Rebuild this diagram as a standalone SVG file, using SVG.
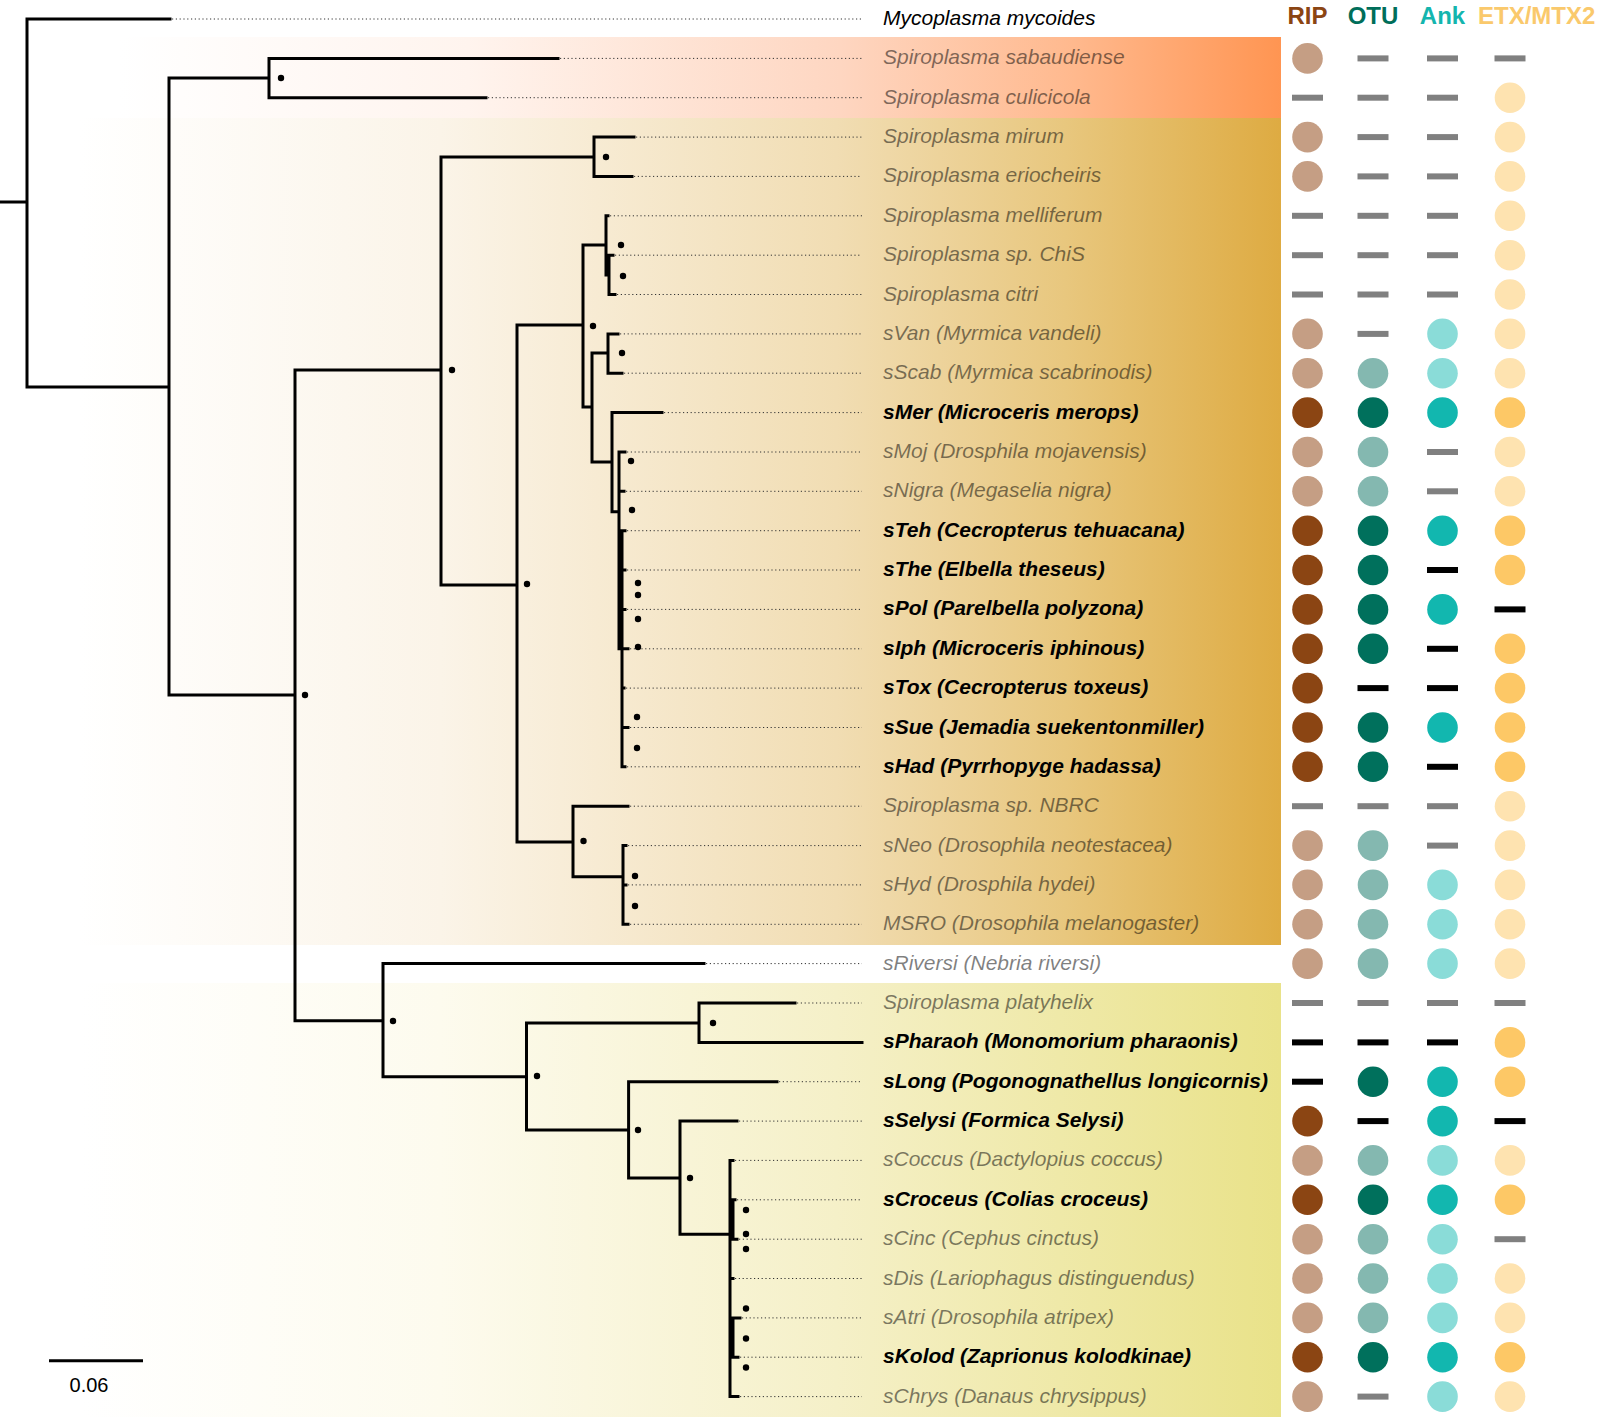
<svg xmlns="http://www.w3.org/2000/svg" width="1600" height="1417" viewBox="0 0 1600 1417">
<style>
.br{stroke:#000;stroke-width:3;fill:none;stroke-linecap:square}
.ld{stroke:#333;stroke-width:1;stroke-dasharray:1.2 2.6;fill:none}
.lb{font-family:"Liberation Sans",Arial,sans-serif;font-size:21px;font-style:italic}
.gr{fill:#000;fill-opacity:0.5}
.bd{fill:#000;font-weight:bold}
.bk{fill:#000}
.hd{font-family:"Liberation Sans",Arial,sans-serif;font-size:24px;font-weight:bold}
.nd{fill:#000}
.rD{fill:#8B4513}.rL{fill:#C59E84}
.oD{fill:#00705C}.oL{fill:#84B8B0}
.aD{fill:#12B7AF}.aL{fill:#8ADCD8}
.eD{fill:#FDC866}.eL{fill:#FEE3B0}
.dg{fill:#808080}.dk{fill:#000}
</style>
<defs>
<linearGradient id="gOr" gradientUnits="userSpaceOnUse" x1="120" y1="0" x2="1281" y2="0">
<stop offset="0" stop-color="#FFFFFF"/>
<stop offset="0.3" stop-color="#FFF4EE"/>
<stop offset="0.62" stop-color="#FED6C1"/>
<stop offset="0.82" stop-color="#FFB98E"/>
<stop offset="1" stop-color="#FF9552"/>
</linearGradient>
<linearGradient id="gGo" gradientUnits="userSpaceOnUse" x1="80" y1="0" x2="1281" y2="0">
<stop offset="0" stop-color="#FFFFFF"/>
<stop offset="0.3" stop-color="#FBF4E8"/>
<stop offset="0.63" stop-color="#F1DDB3"/>
<stop offset="0.82" stop-color="#E8C77E"/>
<stop offset="1" stop-color="#DEAB42"/>
</linearGradient>
<linearGradient id="gYe" gradientUnits="userSpaceOnUse" x1="80" y1="0" x2="1281" y2="0">
<stop offset="0" stop-color="#FFFFFF"/>
<stop offset="0.3" stop-color="#FDFBEE"/>
<stop offset="0.63" stop-color="#F5F0C8"/>
<stop offset="1" stop-color="#E9E289"/>
</linearGradient>
</defs>
<rect width="1600" height="1417" fill="#FFFFFF"/>
<g id="bands">
<rect x="80" y="37" width="1201" height="81" fill="url(#gOr)"/>
<rect x="80" y="118" width="1201" height="827" fill="url(#gGo)"/>
<rect x="80" y="983" width="1201" height="434" fill="url(#gYe)"/>
</g>
<g id="headers">
<text class="hd" x="1307.5" y="23.5" text-anchor="middle" fill="#8B4513">RIP</text>
<text class="hd" x="1373" y="23.5" text-anchor="middle" fill="#006E5A">OTU</text>
<text class="hd" x="1442.5" y="23.5" text-anchor="middle" fill="#14B5AE">Ank</text>
<text class="hd" x="1478" y="23.5" fill="#FAC96C">ETX/MTX2</text>
</g>
<g id="connectors">
<path class="br" d="M0,202H27 M27,19V387 M27,19H170 M27,387H169 M169,78V695 M169,78H269 M269,58.4V97.7 M269,58.4H558 M269,97.7H486 M169,695H295 M295,370V1020.7 M295,370H441 M441,157V585 M441,157H594 M594,137.1V176.4 M594,137.1H634 M594,176.4H632 M441,585H517 M517,325V842 M517,325H583 M583,245V407 M583,245H606 M606,215.8V275 M606,215.8H608 M606,275H609 M609,255.2V294.5 M609,255.2H613 M609,294.5H615 M583,407H592 M592,353V462 M592,353H608 M608,333.9V373.2 M608,333.9H618 M608,373.2H622 M592,462H612 M612,412.6V511.7 M612,412.6H662 M612,511.7H619 M619,452V648.8 M619,452H625 M619,491.3H624 M622,530.7V766.8 M622,530.7H625 M622,570H625 M622,609.4H625 M622,648.8H628 M622,688.1H624 M622,727.5H628 M622,766.8H625 M517,842H573 M573,806.2V876.7 M573,806.2H628 M573,876.7H623 M623,845.6V924.3 M623,845.6H626 M623,884.9H626 M623,924.3H628 M295,1020.7H383 M383,963.6V1076.7 M383,963.6H704 M383,1076.7H526.5 M526.5,1023V1130 M526.5,1023H699 M699,1003V1042.4 M699,1003H795 M699,1042.4H862 M526.5,1130H628.6 M628.6,1081.7V1178 M628.6,1081.7H777 M628.6,1178H680 M680,1121.1V1234.3 M680,1121.1H737 M680,1234.3H730 M730,1160.4V1396.6 M730,1160.4H733 M733,1199.8V1238.8 M730,1199.8H735 M730,1239.2H737 M730,1278.5H733 M730,1317.9H740 M733,1317.9V1357.2 M733,1357.2H738 M730,1396.6H738"/>
<path class="ld" d="M172,19H862 M560,58.4H862 M488,97.7H862 M636,137.1H862 M634,176.4H862 M610,215.8H862 M615,255.2H862 M617,294.5H862 M620,333.9H862 M624,373.2H862 M664,412.6H862 M627,452H862 M626,491.3H862 M627,530.7H862 M627,570H862 M627,609.4H862 M630,648.8H862 M626,688.1H862 M630,727.5H862 M627,766.8H862 M630,806.2H862 M628,845.6H862 M628,884.9H862 M630,924.3H862 M706,963.6H862 M797,1003H862 M779,1081.7H862 M739,1121.1H862 M735,1160.4H862 M737,1199.8H862 M739,1239.2H862 M735,1278.5H862 M742,1317.9H862 M740,1357.2H862 M740,1396.6H862"/>
<g class="nd">
<circle cx="281" cy="78" r="3.2"/><circle cx="606" cy="157" r="3.2"/><circle cx="621" cy="245" r="3.2"/><circle cx="623" cy="276" r="3.2"/><circle cx="593" cy="326" r="3.2"/><circle cx="622" cy="353" r="3.2"/><circle cx="452" cy="370" r="3.2"/><circle cx="631" cy="461" r="3.2"/><circle cx="632" cy="510" r="3.2"/><circle cx="638" cy="583" r="3.2"/><circle cx="638" cy="595" r="3.2"/><circle cx="638" cy="619" r="3.2"/><circle cx="638" cy="647" r="3.2"/><circle cx="637" cy="717" r="3.2"/><circle cx="637" cy="748" r="3.2"/><circle cx="527" cy="584" r="3.2"/><circle cx="305" cy="695" r="3.2"/><circle cx="583.5" cy="841" r="3.2"/><circle cx="635" cy="876" r="3.2"/><circle cx="635" cy="906" r="3.2"/><circle cx="393" cy="1021" r="3.2"/><circle cx="713" cy="1023" r="3.2"/><circle cx="537" cy="1076" r="3.2"/><circle cx="638" cy="1130" r="3.2"/><circle cx="690" cy="1178" r="3.2"/><circle cx="746" cy="1210" r="3.2"/><circle cx="746" cy="1234" r="3.2"/><circle cx="746" cy="1249" r="3.2"/><circle cx="746" cy="1308.5" r="3.2"/><circle cx="746" cy="1338.5" r="3.2"/><circle cx="746" cy="1367.5" r="3.2"/>
</g>
</g>
<g id="scale">
<line x1="49" y1="1360.7" x2="143" y2="1360.7" stroke="#000" stroke-width="3"/>
<text x="89" y="1392" text-anchor="middle" font-family="'Liberation Sans',Arial,sans-serif" font-size="20" fill="#000">0.06</text>
</g>
<g id="t00"><text class="lb bk" x="883" y="25">Mycoplasma mycoides</text></g>
<g id="t01"><text class="lb gr" x="883" y="64.4">Spiroplasma sabaudiense</text><circle class="rL" cx="1307.5" cy="58.4" r="15.3"/><rect class="dg" x="1357.5" y="55.4" width="31" height="6"/><rect class="dg" x="1427" y="55.4" width="31" height="6"/><rect class="dg" x="1494.5" y="55.4" width="31" height="6"/></g>
<g id="t02"><text class="lb gr" x="883" y="103.7">Spiroplasma culicicola</text><rect class="dg" x="1292" y="94.7" width="31" height="6"/><rect class="dg" x="1357.5" y="94.7" width="31" height="6"/><rect class="dg" x="1427" y="94.7" width="31" height="6"/><circle class="eL" cx="1510" cy="97.7" r="15.3"/></g>
<g id="t03"><text class="lb gr" x="883" y="143.1">Spiroplasma mirum</text><circle class="rL" cx="1307.5" cy="137.1" r="15.3"/><rect class="dg" x="1357.5" y="134.1" width="31" height="6"/><rect class="dg" x="1427" y="134.1" width="31" height="6"/><circle class="eL" cx="1510" cy="137.1" r="15.3"/></g>
<g id="t04"><text class="lb gr" x="883" y="182.4">Spiroplasma eriocheiris</text><circle class="rL" cx="1307.5" cy="176.4" r="15.3"/><rect class="dg" x="1357.5" y="173.4" width="31" height="6"/><rect class="dg" x="1427" y="173.4" width="31" height="6"/><circle class="eL" cx="1510" cy="176.4" r="15.3"/></g>
<g id="t05"><text class="lb gr" x="883" y="221.8">Spiroplasma melliferum</text><rect class="dg" x="1292" y="212.8" width="31" height="6"/><rect class="dg" x="1357.5" y="212.8" width="31" height="6"/><rect class="dg" x="1427" y="212.8" width="31" height="6"/><circle class="eL" cx="1510" cy="215.8" r="15.3"/></g>
<g id="t06"><text class="lb gr" x="883" y="261.2">Spiroplasma sp. ChiS</text><rect class="dg" x="1292" y="252.2" width="31" height="6"/><rect class="dg" x="1357.5" y="252.2" width="31" height="6"/><rect class="dg" x="1427" y="252.2" width="31" height="6"/><circle class="eL" cx="1510" cy="255.2" r="15.3"/></g>
<g id="t07"><text class="lb gr" x="883" y="300.5">Spiroplasma citri</text><rect class="dg" x="1292" y="291.5" width="31" height="6"/><rect class="dg" x="1357.5" y="291.5" width="31" height="6"/><rect class="dg" x="1427" y="291.5" width="31" height="6"/><circle class="eL" cx="1510" cy="294.5" r="15.3"/></g>
<g id="t08"><text class="lb gr" x="883" y="339.9">sVan (Myrmica vandeli)</text><circle class="rL" cx="1307.5" cy="333.9" r="15.3"/><rect class="dg" x="1357.5" y="330.9" width="31" height="6"/><circle class="aL" cx="1442.5" cy="333.9" r="15.3"/><circle class="eL" cx="1510" cy="333.9" r="15.3"/></g>
<g id="t09"><text class="lb gr" x="883" y="379.2">sScab (Myrmica scabrinodis)</text><circle class="rL" cx="1307.5" cy="373.2" r="15.3"/><circle class="oL" cx="1373" cy="373.2" r="15.3"/><circle class="aL" cx="1442.5" cy="373.2" r="15.3"/><circle class="eL" cx="1510" cy="373.2" r="15.3"/></g>
<g id="t10"><text class="lb bd" x="883" y="418.6">sMer (Microceris merops)</text><circle class="rD" cx="1307.5" cy="412.6" r="15.3"/><circle class="oD" cx="1373" cy="412.6" r="15.3"/><circle class="aD" cx="1442.5" cy="412.6" r="15.3"/><circle class="eD" cx="1510" cy="412.6" r="15.3"/></g>
<g id="t11"><text class="lb gr" x="883" y="458">sMoj (Drosphila mojavensis)</text><circle class="rL" cx="1307.5" cy="452" r="15.3"/><circle class="oL" cx="1373" cy="452" r="15.3"/><rect class="dg" x="1427" y="449" width="31" height="6"/><circle class="eL" cx="1510" cy="452" r="15.3"/></g>
<g id="t12"><text class="lb gr" x="883" y="497.3">sNigra (Megaselia nigra)</text><circle class="rL" cx="1307.5" cy="491.3" r="15.3"/><circle class="oL" cx="1373" cy="491.3" r="15.3"/><rect class="dg" x="1427" y="488.3" width="31" height="6"/><circle class="eL" cx="1510" cy="491.3" r="15.3"/></g>
<g id="t13"><text class="lb bd" x="883" y="536.7">sTeh (Cecropterus tehuacana)</text><circle class="rD" cx="1307.5" cy="530.7" r="15.3"/><circle class="oD" cx="1373" cy="530.7" r="15.3"/><circle class="aD" cx="1442.5" cy="530.7" r="15.3"/><circle class="eD" cx="1510" cy="530.7" r="15.3"/></g>
<g id="t14"><text class="lb bd" x="883" y="576">sThe (Elbella theseus)</text><circle class="rD" cx="1307.5" cy="570" r="15.3"/><circle class="oD" cx="1373" cy="570" r="15.3"/><rect class="dk" x="1427" y="567" width="31" height="6"/><circle class="eD" cx="1510" cy="570" r="15.3"/></g>
<g id="t15"><text class="lb bd" x="883" y="615.4">sPol (Parelbella polyzona)</text><circle class="rD" cx="1307.5" cy="609.4" r="15.3"/><circle class="oD" cx="1373" cy="609.4" r="15.3"/><circle class="aD" cx="1442.5" cy="609.4" r="15.3"/><rect class="dk" x="1494.5" y="606.4" width="31" height="6"/></g>
<g id="t16"><text class="lb bd" x="883" y="654.8">sIph (Microceris iphinous)</text><circle class="rD" cx="1307.5" cy="648.8" r="15.3"/><circle class="oD" cx="1373" cy="648.8" r="15.3"/><rect class="dk" x="1427" y="645.8" width="31" height="6"/><circle class="eD" cx="1510" cy="648.8" r="15.3"/></g>
<g id="t17"><text class="lb bd" x="883" y="694.1">sTox (Cecropterus toxeus)</text><circle class="rD" cx="1307.5" cy="688.1" r="15.3"/><rect class="dk" x="1357.5" y="685.1" width="31" height="6"/><rect class="dk" x="1427" y="685.1" width="31" height="6"/><circle class="eD" cx="1510" cy="688.1" r="15.3"/></g>
<g id="t18"><text class="lb bd" x="883" y="733.5">sSue (Jemadia suekentonmiller)</text><circle class="rD" cx="1307.5" cy="727.5" r="15.3"/><circle class="oD" cx="1373" cy="727.5" r="15.3"/><circle class="aD" cx="1442.5" cy="727.5" r="15.3"/><circle class="eD" cx="1510" cy="727.5" r="15.3"/></g>
<g id="t19"><text class="lb bd" x="883" y="772.8">sHad (Pyrrhopyge hadassa)</text><circle class="rD" cx="1307.5" cy="766.8" r="15.3"/><circle class="oD" cx="1373" cy="766.8" r="15.3"/><rect class="dk" x="1427" y="763.8" width="31" height="6"/><circle class="eD" cx="1510" cy="766.8" r="15.3"/></g>
<g id="t20"><text class="lb gr" x="883" y="812.2">Spiroplasma sp. NBRC</text><rect class="dg" x="1292" y="803.2" width="31" height="6"/><rect class="dg" x="1357.5" y="803.2" width="31" height="6"/><rect class="dg" x="1427" y="803.2" width="31" height="6"/><circle class="eL" cx="1510" cy="806.2" r="15.3"/></g>
<g id="t21"><text class="lb gr" x="883" y="851.6">sNeo (Drosophila neotestacea)</text><circle class="rL" cx="1307.5" cy="845.6" r="15.3"/><circle class="oL" cx="1373" cy="845.6" r="15.3"/><rect class="dg" x="1427" y="842.6" width="31" height="6"/><circle class="eL" cx="1510" cy="845.6" r="15.3"/></g>
<g id="t22"><text class="lb gr" x="883" y="890.9">sHyd (Drosphila hydei)</text><circle class="rL" cx="1307.5" cy="884.9" r="15.3"/><circle class="oL" cx="1373" cy="884.9" r="15.3"/><circle class="aL" cx="1442.5" cy="884.9" r="15.3"/><circle class="eL" cx="1510" cy="884.9" r="15.3"/></g>
<g id="t23"><text class="lb gr" x="883" y="930.3">MSRO (Drosophila melanogaster)</text><circle class="rL" cx="1307.5" cy="924.3" r="15.3"/><circle class="oL" cx="1373" cy="924.3" r="15.3"/><circle class="aL" cx="1442.5" cy="924.3" r="15.3"/><circle class="eL" cx="1510" cy="924.3" r="15.3"/></g>
<g id="t24"><text class="lb gr" x="883" y="969.6" fill-opacity="0.42">sRiversi (Nebria riversi)</text><circle class="rL" cx="1307.5" cy="963.6" r="15.3"/><circle class="oL" cx="1373" cy="963.6" r="15.3"/><circle class="aL" cx="1442.5" cy="963.6" r="15.3"/><circle class="eL" cx="1510" cy="963.6" r="15.3"/></g>
<g id="t25"><text class="lb gr" x="883" y="1009">Spiroplasma platyhelix</text><rect class="dg" x="1292" y="1000" width="31" height="6"/><rect class="dg" x="1357.5" y="1000" width="31" height="6"/><rect class="dg" x="1427" y="1000" width="31" height="6"/><rect class="dg" x="1494.5" y="1000" width="31" height="6"/></g>
<g id="t26"><text class="lb bd" x="883" y="1048.4">sPharaoh (Monomorium pharaonis)</text><rect class="dk" x="1292" y="1039.4" width="31" height="6"/><rect class="dk" x="1357.5" y="1039.4" width="31" height="6"/><rect class="dk" x="1427" y="1039.4" width="31" height="6"/><circle class="eD" cx="1510" cy="1042.4" r="15.3"/></g>
<g id="t27"><text class="lb bd" x="883" y="1087.7">sLong (Pogonognathellus longicornis)</text><rect class="dk" x="1292" y="1078.7" width="31" height="6"/><circle class="oD" cx="1373" cy="1081.7" r="15.3"/><circle class="aD" cx="1442.5" cy="1081.7" r="15.3"/><circle class="eD" cx="1510" cy="1081.7" r="15.3"/></g>
<g id="t28"><text class="lb bd" x="883" y="1127.1">sSelysi (Formica Selysi)</text><circle class="rD" cx="1307.5" cy="1121.1" r="15.3"/><rect class="dk" x="1357.5" y="1118.1" width="31" height="6"/><circle class="aD" cx="1442.5" cy="1121.1" r="15.3"/><rect class="dk" x="1494.5" y="1118.1" width="31" height="6"/></g>
<g id="t29"><text class="lb gr" x="883" y="1166.4">sCoccus (Dactylopius coccus)</text><circle class="rL" cx="1307.5" cy="1160.4" r="15.3"/><circle class="oL" cx="1373" cy="1160.4" r="15.3"/><circle class="aL" cx="1442.5" cy="1160.4" r="15.3"/><circle class="eL" cx="1510" cy="1160.4" r="15.3"/></g>
<g id="t30"><text class="lb bd" x="883" y="1205.8">sCroceus (Colias croceus)</text><circle class="rD" cx="1307.5" cy="1199.8" r="15.3"/><circle class="oD" cx="1373" cy="1199.8" r="15.3"/><circle class="aD" cx="1442.5" cy="1199.8" r="15.3"/><circle class="eD" cx="1510" cy="1199.8" r="15.3"/></g>
<g id="t31"><text class="lb gr" x="883" y="1245.2">sCinc (Cephus cinctus)</text><circle class="rL" cx="1307.5" cy="1239.2" r="15.3"/><circle class="oL" cx="1373" cy="1239.2" r="15.3"/><circle class="aL" cx="1442.5" cy="1239.2" r="15.3"/><rect class="dg" x="1494.5" y="1236.2" width="31" height="6"/></g>
<g id="t32"><text class="lb gr" x="883" y="1284.5">sDis (Lariophagus distinguendus)</text><circle class="rL" cx="1307.5" cy="1278.5" r="15.3"/><circle class="oL" cx="1373" cy="1278.5" r="15.3"/><circle class="aL" cx="1442.5" cy="1278.5" r="15.3"/><circle class="eL" cx="1510" cy="1278.5" r="15.3"/></g>
<g id="t33"><text class="lb gr" x="883" y="1323.9">sAtri (Drosophila atripex)</text><circle class="rL" cx="1307.5" cy="1317.9" r="15.3"/><circle class="oL" cx="1373" cy="1317.9" r="15.3"/><circle class="aL" cx="1442.5" cy="1317.9" r="15.3"/><circle class="eL" cx="1510" cy="1317.9" r="15.3"/></g>
<g id="t34"><text class="lb bd" x="883" y="1363.2">sKolod (Zaprionus kolodkinae)</text><circle class="rD" cx="1307.5" cy="1357.2" r="15.3"/><circle class="oD" cx="1373" cy="1357.2" r="15.3"/><circle class="aD" cx="1442.5" cy="1357.2" r="15.3"/><circle class="eD" cx="1510" cy="1357.2" r="15.3"/></g>
<g id="t35"><text class="lb gr" x="883" y="1402.6">sChrys (Danaus chrysippus)</text><circle class="rL" cx="1307.5" cy="1396.6" r="15.3"/><rect class="dg" x="1357.5" y="1393.6" width="31" height="6"/><circle class="aL" cx="1442.5" cy="1396.6" r="15.3"/><circle class="eL" cx="1510" cy="1396.6" r="15.3"/></g>
</svg>
